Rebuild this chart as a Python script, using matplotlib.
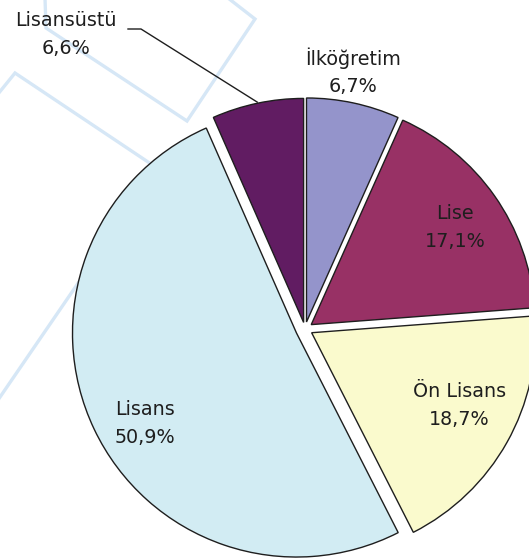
import numpy as np
import matplotlib
matplotlib.use("Agg")
import matplotlib.pyplot as plt

categories = ["İlköğretim", "Lise", "Ön Lisans", "Lisans", "Lisansüstü"]
values = [6.7, 17.1, 18.7, 50.9, 6.6]
pct_labels = ["6,7%", "17,1%", "18,7%", "50,9%", "6,6%"]
colors = ["#9494cb", "#983165", "#fafacd", "#d2ecf3", "#611c62"]

W, H = 529, 559
fig = plt.figure(figsize=(W / 100, H / 100), dpi=100)
fig.patch.set_facecolor("white")

# background watermark lines (pixel coordinates, origin top-left)
wm = fig.add_axes([0, 0, 1, 1], zorder=0)
wm.set_xlim(0, W)
wm.set_ylim(H, 0)
wm.axis("off")
wm_col = "#d6e7f6"
wm.plot([45, 46, 187, 255, 228], [-2, 28, 121, 19, -2], color=wm_col, lw=2.4, solid_joinstyle="miter")
wm.plot([-2, 15, 157, -2], [94, 73, 168, 400], color=wm_col, lw=2.4, solid_joinstyle="miter")

# pie axes: center at pixel (305, 329), radius 224 px
cx, cy, R = 305, 329, 224
ax = fig.add_axes([0, 0, 1, 1], zorder=1)
ax.patch.set_alpha(0)

explode = [0.032, 0.034, 0.034, 0.042, 0.030]
wedges, _ = ax.pie(values, startangle=90, counterclock=False, colors=colors,
                   explode=explode, radius=1.0, frame=True,
                   wedgeprops=dict(edgecolor="#1e1e1e", linewidth=1.0))
ax.set_xlim(-cx / R, (W - cx) / R)
ax.set_ylim(-(H - cy) / R, cy / R)
ax.set_aspect("auto")
ax.axis("off")

# label layout: radius and angle offset for each wedge
lab_r = [1.165, 0.81, 0.77, 0.83, None]
lab_da = [1.5, -1.0, 3.0, 5.0, 0]
fs = 13.8
txt_col = "#1e1e1e"
dy = 14 / R
for i, w in enumerate(wedges):
    mid = (w.theta1 + w.theta2) / 2
    if lab_r[i] is None:
        continue
    a = np.deg2rad(mid + lab_da[i])
    x, y = lab_r[i] * np.cos(a), lab_r[i] * np.sin(a)
    ax.text(x, y + dy, categories[i], ha="center", va="center", fontsize=fs, color=txt_col)
    ax.text(x, y - dy, pct_labels[i], ha="center", va="center", fontsize=fs, color=txt_col)

# Lisansüstü label with leader line
w = wedges[4]
mid = np.deg2rad((w.theta1 + w.theta2) / 2)
ex, ey = 1.035 * np.cos(mid), 1.035 * np.sin(mid)
lx, ly = (66 - cx) / R, (cy - 20) / R
ax.text(lx, ly, categories[4], ha="center", va="center", fontsize=fs, color=txt_col)
ax.text(lx, ly - 2 * dy, pct_labels[4], ha="center", va="center", fontsize=fs, color=txt_col)
p0 = ((128 - cx) / R, (cy - 29) / R)
p1 = ((141 - cx) / R, (cy - 29) / R)
ax.plot([p0[0], p1[0], ex], [p0[1], p1[1], ey], color="#1e1e1e", lw=1.0)

fig.savefig("out.png", dpi=100, facecolor="white")
